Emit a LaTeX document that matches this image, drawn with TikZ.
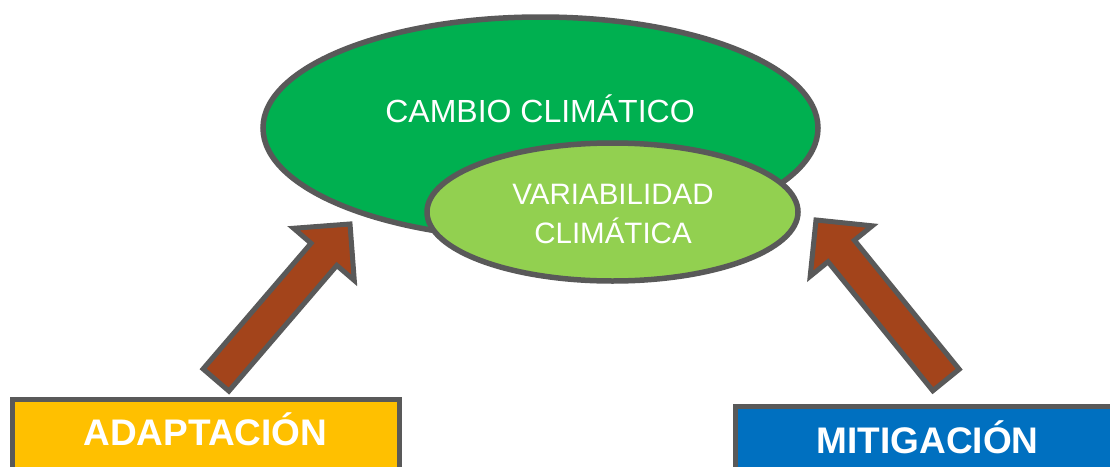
\documentclass[tikz,border=0pt]{standalone}
\usepackage{fontspec}
\setmainfont{Liberation Sans}
\usetikzlibrary{calc}

\definecolor{ccgreen}{RGB}{0,176,80}
\definecolor{vclight}{RGB}{146,208,80}
\definecolor{linegray}{RGB}{89,89,89}
\definecolor{adyellow}{RGB}{255,192,0}
\definecolor{miblue}{RGB}{0,112,192}
\definecolor{arrbrown}{RGB}{163,68,27}

\tikzset{
  greyline/.style={draw=linegray,line width=5.5pt},
  arrowbody/.style={greyline,fill=arrbrown,line width=5pt,line join=miter},
  labeltext/.style={text=white,inner sep=0pt},
  boxlabel/.style={greyline,line width=5pt,text=white,outer sep=0pt,inner ysep=6pt,
    font=\bfseries\fontsize{37}{40}\selectfont,text depth=40pt}
}

% block arrow from tail (#1) to tip (#2)
\newcommand{\blockarrow}[2]{%
  \coordinate (hb) at ($(#2)!40pt!(#1)$);
  \draw[arrowbody] ($(#1)!17pt!90:(#2)$) -- ($(hb)!17pt!90:(#2)$) -- ($(hb)!40pt!90:(#2)$)
    -- (#2) -- ($(hb)!40pt!-90:(#2)$) -- ($(hb)!17pt!-90:(#2)$) -- ($(#1)!17pt!-90:(#2)$) -- cycle;}

\begin{document}
\begin{tikzpicture}[x=1pt,y=-1pt]
\useasboundingbox (0,0) rectangle (1110,466);
\clip (0,0) rectangle (1110,466);
%%
\draw[greyline,fill=ccgreen] (540.5,128) ellipse (277.5 and 111);
\node[labeltext,font=\fontsize{32}{38}\selectfont,text height=23pt,text depth=0pt]
  (cambio) at (540,110.5) {CAMBIO CLIMÁTICO};
%%
\draw[greyline,fill=vclight] (612.5,212) ellipse (185.5 and 69);
\node[labeltext,align=center,font=\fontsize{29.5}{39}\selectfont]
  (varia) at (613,214) {VARIABILIDAD\\CLIMÁTICA};
%%
\node[boxlabel,fill=adyellow,anchor=north,minimum width=387pt,text height=40pt]
  (adapt) at (205.5,399) {ADAPTACIÓN};
\node[boxlabel,fill=miblue,anchor=north west,minimum width=385pt,text height=41pt]
  (mitig) at (735,406) {MITIGACIÓN};
%%
\coordinate (adtail) at (216,380);
\coordinate (adtip) at (350,224);
\coordinate (mitail) at (946,380);
\coordinate (mitip) at (816,220);
\blockarrow{adtail}{adtip}
\blockarrow{mitail}{mitip}
\end{tikzpicture}
\end{document}
